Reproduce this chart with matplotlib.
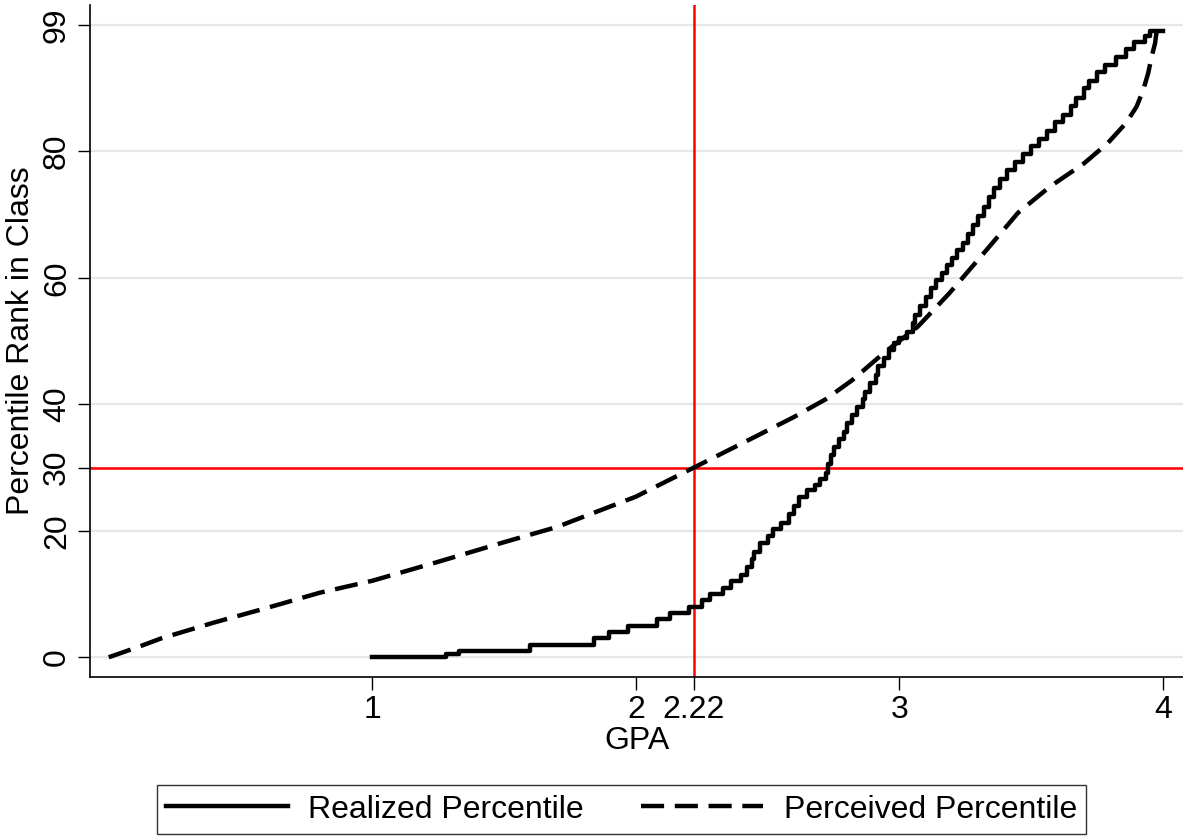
import matplotlib
matplotlib.use("Agg")
import matplotlib.pyplot as plt

plt.rcParams["font.family"] = ["Liberation Sans", "DejaVu Sans"]

# realized percentile: staircase corners (GPA where the level starts, percentile)
realized_gpa = [1.00, 1.23, 1.28, 1.33, 1.60, 1.84, 1.90, 1.97, 2.08, 2.13, 2.20,
                2.25, 2.28, 2.33, 2.36, 2.40, 2.42, 2.44, 2.45, 2.47, 2.50, 2.52,
                2.55, 2.58, 2.60, 2.62, 2.65, 2.68, 2.70, 2.72, 2.73, 2.74, 2.75,
                2.77, 2.79, 2.80, 2.82, 2.84, 2.86, 2.87, 2.89, 2.91, 2.92, 2.94,
                2.96, 2.98, 3.00, 3.03, 3.05, 3.06, 3.08, 3.10, 3.12, 3.14, 3.16,
                3.18, 3.20, 3.22, 3.24, 3.26, 3.28, 3.30, 3.32, 3.34, 3.36, 3.38,
                3.41, 3.44, 3.47, 3.50, 3.53, 3.56, 3.59, 3.62, 3.65, 3.67, 3.70,
                3.72, 3.75, 3.78, 3.82, 3.86, 3.89, 3.93, 3.95, 4.00]
realized_pct = [0.0, 0.0, 0.5, 1.0, 2.0, 3.1, 4.0, 5.0, 6.0, 7.0, 8.0,
                9.0, 10.0, 11.0, 12.0, 13.0, 14.2, 15.5, 16.7, 18.0, 19.2, 20.3,
                21.3, 22.6, 24.0, 25.3, 26.4, 27.3, 28.2, 29.2, 30.5, 32.0, 33.3,
                34.5, 35.7, 37.0, 38.3, 39.6, 40.8, 42.0, 43.3, 44.6, 46.0, 47.4,
                48.6, 49.7, 50.5, 51.5, 52.8, 54.2, 55.6, 57.0, 58.4, 59.6, 60.8,
                62.0, 63.2, 64.4, 65.6, 67.0, 68.3, 69.8, 71.2, 72.8, 74.2, 75.6,
                77.0, 78.4, 79.6, 80.8, 82.0, 83.3, 84.6, 85.8, 87.2, 88.5, 90.0,
                91.2, 92.5, 93.7, 95.0, 96.2, 97.3, 98.3, 99.0, 99.0]

# perceived percentile
perceived_gpa = [0.00, 0.11, 0.20, 0.40, 0.60, 0.80, 1.00, 1.25, 1.50, 1.70, 2.00,
                 2.22, 2.43, 2.60, 2.72, 2.82, 2.94, 3.07, 3.19, 3.33, 3.45, 3.57,
                 3.70, 3.79, 3.86, 3.90, 3.925, 3.944, 3.957, 3.970, 3.976]
perceived_pct = [0.0, 1.6, 3.0, 5.5, 7.8, 10.2, 12.1, 15.1, 18.2, 20.6, 25.4,
                 30.0, 34.4, 38.0, 40.8, 43.8, 48.1, 52.3, 57.6, 64.4, 70.3, 74.4,
                 78.1, 81.3, 84.5, 87.1, 89.7, 92.4, 95.0, 97.1, 99.0]

x_ticks = [1, 2, 2.22, 3, 4]
x_labels = ["1", "2", "2.22", "3", "4"]
y_ticks = [0, 20, 30, 40, 60, 80, 100]
y_labels = ["0", "20", "30", "40", "60", "80", "99"]
gpa_cut = 2.22
pct_cut = 30

fig = plt.figure(figsize=(11.83, 8.39), dpi=100)
ax = fig.add_axes([0.0761, 0.1931, 0.9239, 0.8009])

ax.axvline(gpa_cut, color="red", lw=1.8, zorder=1.5)
ax.axhline(pct_cut, color="red", lw=1.8, zorder=1.5)

ax.plot(realized_gpa, realized_pct, drawstyle="steps-post", color="black",
        lw=3.2, label="Realized Percentile", zorder=3)
ax.plot(perceived_gpa, perceived_pct, color="black", lw=3.2, ls=(0, (5.2, 2.4)),
        dash_capstyle="butt", label="Perceived Percentile", zorder=3)

ax.set_xlim(-0.071, 4.076)
ax.set_ylim(-3.12, 103.16)
ax.set_xticks(x_ticks)
ax.set_xticklabels(x_labels)
ax.set_yticks(y_ticks)
ax.set_yticklabels(y_labels, rotation=90, va="center")
ax.tick_params(direction="out", length=9, width=1, labelsize=23, pad=4)
ax.yaxis.grid(True, color="#e6e6e6", lw=1.6)
ax.set_axisbelow(True)
for s in ["top", "right"]:
    ax.spines[s].set_visible(False)
for s in ["left", "bottom"]:
    ax.spines[s].set_linewidth(1.2)

ax.set_xlabel("GPA", fontsize=23, labelpad=1)
ax.set_ylabel("Percentile Rank in Class", fontsize=23, labelpad=4)

leg = fig.legend(loc="center", bbox_to_anchor=(621.5 / 1183, 1 - 809.5 / 839),
                 ncol=2, fontsize=23, frameon=True, fancybox=False,
                 handlelength=3.8, handletextpad=0.65, columnspacing=1.8,
                 borderpad=0.3)
leg.get_frame().set_edgecolor("black")
leg.get_frame().set_linewidth(1.0)

fig.savefig("out.png", dpi=100)
